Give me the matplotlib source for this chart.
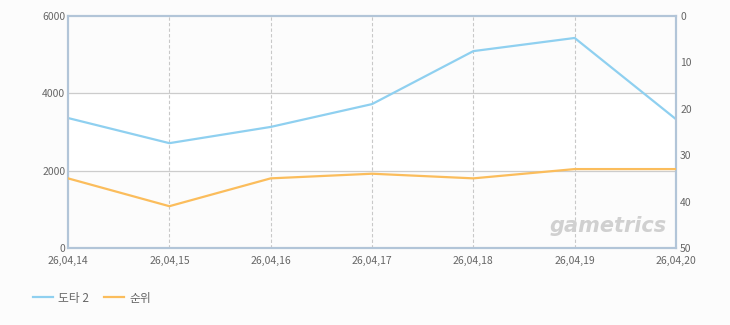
import matplotlib.pyplot as plt

# 데이터
dates = ["26,04,14", "26,04,15", "26,04,16", "26,04,17", "26,04,18", "26,04,19", "26,04,20"]
users = [3360, 2710, 3130, 3720, 5090, 5430, 3330]   # 도타 2 (왼쪽 축)
rank = [35, 41, 35, 34, 35, 33, 33]                   # 순위 (오른쪽 축, 뒤집힘)

BLUE = "#8fd0f0"
ORANGE = "#fbbd5c"
EDGE = "#b2c5d8"
TXT = "#666666"

plt.rcParams["font.family"] = ["Noto Sans CJK KR", "DejaVu Sans"]

fig = plt.figure(figsize=(7.3, 3.25), dpi=100, facecolor="#fcfcfc")
ax = fig.add_axes([0.0932, 0.237, 0.8328, 0.714])
ax.set_facecolor("#fcfcfc")

x = list(range(len(dates)))

# 배경 밴드 (2000~4000 흰색)
ax.axhspan(2000, 4000, color="white", zorder=0)

ax.set_xlim(0, len(dates) - 1)
ax.set_ylim(0, 6000)
ax.set_yticks([0, 2000, 4000, 6000])
ax.set_xticks(x)
ax.set_xticklabels(dates)

for xv in x[1:-1]:
    ax.axvline(xv, color="#c8c8c8", lw=0.8, ls=(0, (3, 2)), zorder=1)
for yv in [2000, 4000]:
    ax.axhline(yv, color="#cccccc", lw=0.9, zorder=1)

l1, = ax.plot(x, users, color=BLUE, lw=1.6, zorder=3, label="도타 2")

ax2 = ax.twinx()
ax2.set_ylim(50, 0)
ax2.set_yticks([0, 10, 20, 30, 40, 50])
l2, = ax2.plot(x, rank, color=ORANGE, lw=1.6, zorder=3, label="순위")

for a in (ax, ax2):
    for s in a.spines.values():
        s.set_color(EDGE)
        s.set_linewidth(1.5)
    a.tick_params(length=0, labelsize=7.5, labelcolor=TXT)
ax.tick_params(axis="y", pad=2)
ax.tick_params(axis="x", pad=6)
ax2.tick_params(axis="y", pad=3)

# 워터마크
ax.text(0.985, 0.05, "gametrics", transform=ax.transAxes, ha="right", va="bottom",
        fontsize=15, fontweight="bold", style="italic", color="#d0d0d0",
        family="DejaVu Sans", zorder=2)

fig.legend(handles=[l1, l2], loc="lower left", bbox_to_anchor=(0.03, 0.03), ncol=2,
           frameon=False, fontsize=8.5, labelcolor=TXT, handlelength=1.7,
           columnspacing=1.2, handletextpad=0.5)

plt.savefig("out.png", dpi=100, facecolor=fig.get_facecolor())
